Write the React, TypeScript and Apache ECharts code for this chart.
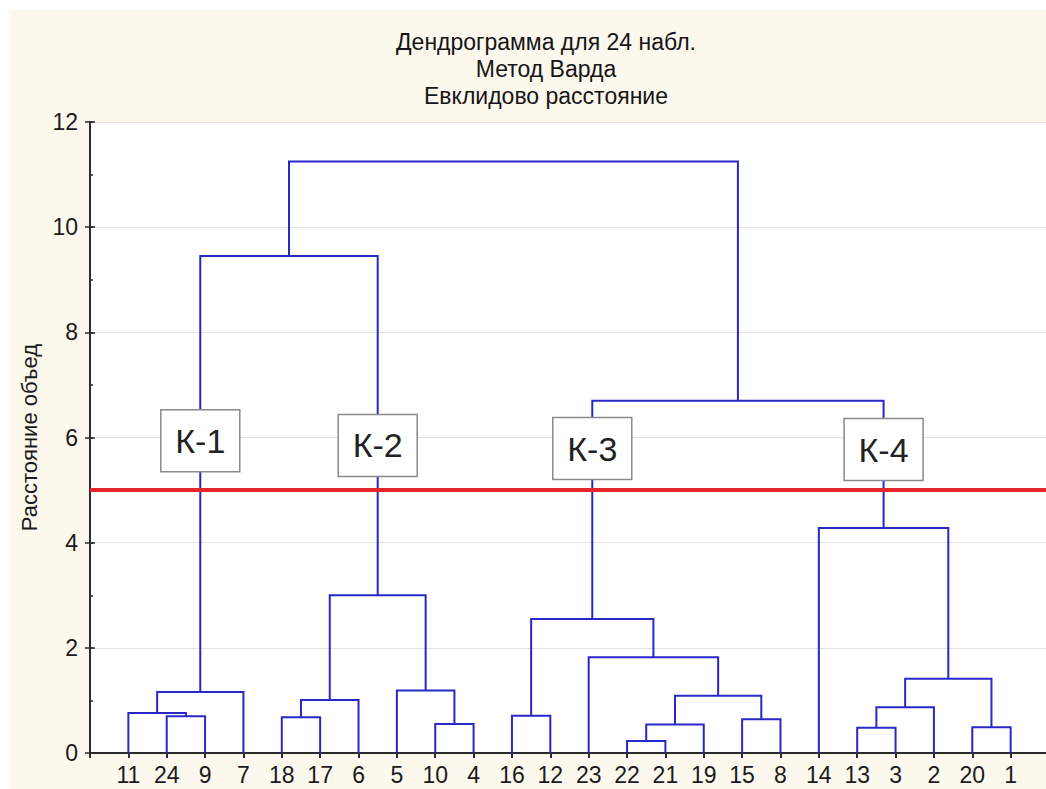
import React, { useEffect, useRef } from "react";
import * as echarts from "echarts";

// Leaf order along the horizontal axis
const leafLabels = ["11", "24", "9", "7", "18", "17", "6", "5", "10", "4", "16", "12", "23", "22", "21", "19", "15", "8", "14", "13", "3", "2", "20", "1"];

// Ward linkage: each merge joins two children (leaf label or "#<merge index>") at a height
const mergeA = ["24", "11", "#1", "18", "#3", "10", "5", "#4", "#2", "16", "22", "#10", "15", "#11", "23", "#9", "13", "#16", "20", "#17", "14", "#15", "#8"];
const mergeB = ["9", "#0", "7", "17", "6", "4", "#5", "#6", "#7", "12", "21", "19", "8", "#12", "#13", "#14", "3", "2", "1", "#18", "#19", "#20", "#21"];
const mergeHeight = [0.7, 0.76, 1.16, 0.68, 1.01, 0.55, 1.19, 3.0, 9.45, 0.71, 0.23, 0.54, 0.64, 1.09, 1.82, 2.55, 0.48, 0.87, 0.49, 1.41, 4.28, 6.7, 11.25];

// Cluster tags placed on the stems of four clusters
const clusterNames = ["К-1", "К-2", "К-3", "К-4"];
const clusterNodes = ["#2", "#7", "#15", "#20"];
const clusterTagY = [5.94, 5.85, 5.79, 5.77];

// Cut level
const cutLevel = 5;

const FONT = "'Liberation Sans', Arial, sans-serif";

function buildLinks() {
  const pos: Record<string, { x: number; y: number }> = {};
  leafLabels.forEach((l, i) => {
    pos[l] = { x: i + 1, y: 0 };
  });
  const links: number[][] = [];
  mergeHeight.forEach((h, i) => {
    const a = pos[mergeA[i]];
    const b = pos[mergeB[i]];
    links.push([a.x, a.y, b.x, b.y, h]);
    pos["#" + i] = { x: (a.x + b.x) / 2, y: h };
  });
  const tags = clusterNodes.map((n, i) => [pos[n].x, clusterTagY[i]]);
  return { links, tags };
}

export default function App() {
  const ref = useRef<HTMLDivElement>(null);

  useEffect(() => {
    if (!ref.current) return;
    const chart = echarts.init(ref.current, null, { renderer: "svg" });
    const { links, tags } = buildLinks();

    const axisLineStyle = { color: "#2b2b2b", width: 2 };
    const tickStyle = { color: "#2b2b2b", width: 1.5 };

    // Secondary value axes that only draw short inner ticks at every unit
    const unitTickAxis = (position: "left" | "right") => ({
      type: "value",
      position,
      min: 0,
      max: 12,
      interval: 1,
      axisLine: { show: false },
      axisTick: { show: true, inside: true, length: 3, lineStyle: tickStyle },
      splitLine: { show: false },
      axisLabel: { show: false },
    });

    chart.setOption({
      animation: false,
      backgroundColor: "#fcf8ee",
      textStyle: { fontFamily: FONT },
      title: {
        text: "Дендрограмма для 24 набл.\nМетод Варда\nЕвклидово расстояние",
        left: 541,
        top: 23,
        textAlign: "center",
        textStyle: {
          fontFamily: FONT,
          fontSize: 23,
          fontWeight: "normal",
          color: "#151515",
          lineHeight: 27,
        },
      },
      graphic: [
        { type: "rect", shape: { x: 0, y: 0, width: 1046, height: 10 }, style: { fill: "#ffffff" }, silent: true },
        { type: "rect", shape: { x: 0, y: 0, width: 10, height: 789 }, style: { fill: "#ffffff" }, silent: true },
      ],
      grid: {
        left: 90,
        top: 122,
        right: -3,
        bottom: 36,
        show: true,
        backgroundColor: "#ffffff",
        borderWidth: 0,
        outerBoundsMode: "none",
      },
      xAxis: [
        {
          type: "value",
          position: "bottom",
          min: 0,
          max: 25,
          interval: 1,
          axisLine: { show: true, lineStyle: axisLineStyle },
          axisTick: { show: false },
          splitLine: { show: false },
          axisLabel: {
            fontFamily: FONT,
            fontSize: 23,
            color: "#1a1a1a",
            margin: 10,
            formatter: (v: number) => leafLabels[v - 1] ?? "",
          },
        },
        {
          type: "value",
          position: "top",
          min: 0,
          max: 25,
          interval: 1,
          axisLine: { show: true, lineStyle: axisLineStyle },
          axisTick: { show: true, inside: true, length: 5, lineStyle: { color: "#2b2b2b", width: 2 } },
          splitLine: { show: false },
          axisLabel: { show: false },
        },
      ],
      yAxis: [
        {
          type: "value",
          position: "left",
          min: 0,
          max: 12,
          interval: 2,
          name: "Расстояние объед",
          nameLocation: "middle",
          nameRotate: 90,
          nameGap: 50,
          nameTextStyle: { fontFamily: FONT, fontSize: 22, color: "#1a1a1a" },
          axisLine: { show: true, lineStyle: axisLineStyle },
          axisTick: { show: true, inside: true, length: 5, lineStyle: tickStyle },
          splitLine: { show: true, lineStyle: { color: "#e2e2e2", width: 1 } },
          axisLabel: {
            fontFamily: FONT,
            fontSize: 23,
            color: "#1a1a1a",
            margin: 12,
          },
        },
        {
          type: "value",
          position: "right",
          min: 0,
          max: 12,
          interval: 2,
          axisLine: { show: true, lineStyle: axisLineStyle },
          axisTick: { show: true, inside: true, length: 5, lineStyle: tickStyle },
          splitLine: { show: false },
          axisLabel: { show: false },
        },
        unitTickAxis("left"),
        unitTickAxis("right"),
      ],
      series: [
        {
          type: "custom",
          name: "links",
          xAxisIndex: 0,
          yAxisIndex: 0,
          z: 2,
          silent: true,
          data: links,
          encode: { x: [0, 2], y: [1, 3, 4] },
          renderItem: (params: any, api: any) => {
            const x1 = api.value(0);
            const y1 = api.value(1);
            const x2 = api.value(2);
            const y2 = api.value(3);
            const h = api.value(4);
            const pts = [
              api.coord([x1, y1]),
              api.coord([x1, h]),
              api.coord([x2, h]),
              api.coord([x2, y2]),
            ];
            return {
              type: "polyline",
              shape: { points: pts },
              style: { stroke: "#2828c8", lineWidth: 2, fill: "none" },
            };
          },
        },
        {
          type: "line",
          name: "cut",
          xAxisIndex: 0,
          yAxisIndex: 0,
          data: [],
          z: 3,
          markLine: {
            silent: true,
            symbol: "none",
            label: { show: false },
            lineStyle: { color: "#e3262b", width: 4, type: "solid" },
            data: [{ yAxis: cutLevel }],
          },
        },
        {
          type: "custom",
          name: "tags",
          xAxisIndex: 0,
          yAxisIndex: 0,
          z: 4,
          silent: true,
          data: tags,
          encode: { x: 0, y: 1 },
          renderItem: (params: any, api: any) => {
            const c = api.coord([api.value(0), api.value(1)]);
            const name = clusterNames[params.dataIndex];
            return {
              type: "group",
              children: [
                {
                  type: "rect",
                  shape: { x: c[0] - 39.5, y: c[1] - 31, width: 79, height: 62 },
                  style: { fill: "#ffffff", stroke: "#8a8a8a", lineWidth: 1.5 },
                },
                {
                  type: "text",
                  style: {
                    text: name,
                    x: c[0],
                    y: c[1],
                    align: "center",
                    verticalAlign: "middle",
                    textAlign: "center",
                    textVerticalAlign: "middle",
                    fontSize: 34,
                    fontFamily: FONT,
                    fill: "#222222",
                  },
                },
              ],
            };
          },
        },
      ],
    });

    return () => {
      chart.dispose();
    };
  }, []);

  return (
    <div
      ref={ref}
      style={{ position: "fixed", left: 0, top: 0, width: 1046, height: 789 }}
    />
  );
}
